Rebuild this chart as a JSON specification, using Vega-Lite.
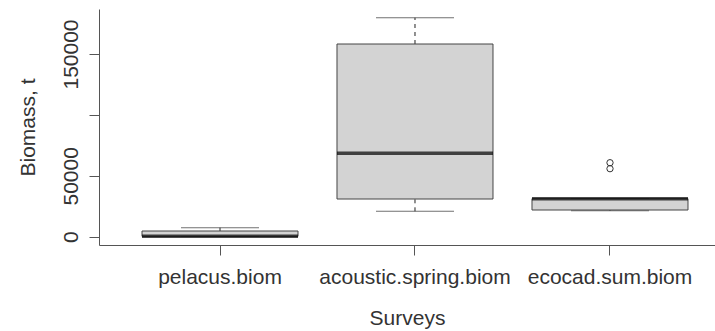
{
  "$schema": "https://vega.github.io/schema/vega-lite/v6.json",
  "width": 616,
  "height": 236,
  "autosize": {"type": "none"},
  "padding": {"left": 99, "top": 9, "right": 0, "bottom": 86},
  "background": "white",
  "config": {
    "view": {"stroke": null},
    "font": "Liberation Sans",
    "axis": {
      "grid": false,
      "labelFont": "Liberation Sans",
      "titleFont": "Liberation Sans",
      "labelFontSize": 21,
      "titleFontSize": 21,
      "titleFontWeight": "normal",
      "labelColor": "#333",
      "titleColor": "#333",
      "domainColor": "#555",
      "tickColor": "#555",
      "tickSize": 10,
      "labelLimit": 0,
      "labelOverlap": false,
      "labelBound": false
    }
  },
  "datasets": {
    "stats": [
      {"survey": "pelacus.biom", "lower": 300, "q1": 300, "median": 350, "q3": 4680, "upper": 7390},
      {"survey": "acoustic.spring.biom", "lower": 20850, "q1": 30950, "median": 68470, "q3": 158210, "upper": 179800},
      {"survey": "ecocad.sum.biom", "lower": 21350, "q1": 21920, "median": 31200, "q3": 31200, "upper": 31200}
    ],
    "outliers": [
      {"survey": "ecocad.sum.biom", "value": 60750},
      {"survey": "ecocad.sum.biom", "value": 55830}
    ]
  },
  "encoding": {
    "x": {
      "field": "survey",
      "type": "nominal",
      "sort": ["pelacus.biom", "acoustic.spring.biom", "ecocad.sum.biom"],
      "scale": {"paddingInner": 0, "paddingOuter": 0.0795, "align": 0.758},
      "axis": {"title": "Surveys", "labelAngle": 0, "labelPadding": 11, "titlePadding": 20}
    }
  },
  "layer": [
    {
      "data": {"name": "stats"},
      "mark": {"type": "rule", "color": "#222", "strokeWidth": 1, "strokeDash": [4, 4]},
      "encoding": {
        "y": {
          "field": "q3",
          "type": "quantitative",
          "scale": {"domain": [-6814, 186946], "nice": false, "zero": false},
          "axis": {
            "title": "Biomass, t",
            "values": [0, 50000, 100000, 150000],
            "format": "d",
            "labelExpr": "datum.value == 100000 ? '' : datum.label",
            "labelAngle": -90,
            "labelPadding": 8,
            "titlePadding": 22
          }
        },
        "y2": {"field": "upper"}
      }
    },
    {
      "data": {"name": "stats"},
      "mark": {"type": "rule", "color": "#222", "strokeWidth": 1, "strokeDash": [4, 4]},
      "encoding": {
        "y": {"field": "lower", "type": "quantitative"},
        "y2": {"field": "q1"}
      }
    },
    {
      "data": {"name": "stats"},
      "mark": {"type": "tick", "color": "#333", "size": 78, "thickness": 1, "orient": "horizontal"},
      "encoding": {"y": {"field": "upper", "type": "quantitative"}}
    },
    {
      "data": {"name": "stats"},
      "mark": {"type": "tick", "color": "#333", "size": 78, "thickness": 1, "orient": "horizontal"},
      "encoding": {"y": {"field": "lower", "type": "quantitative"}}
    },
    {
      "data": {"name": "stats"},
      "mark": {"type": "bar", "fill": "#D3D3D3", "stroke": "#444", "strokeWidth": 1, "width": {"band": 0.8}},
      "encoding": {
        "y": {"field": "q1", "type": "quantitative"},
        "y2": {"field": "q3"}
      }
    },
    {
      "data": {"name": "stats"},
      "mark": {"type": "tick", "color": "#000", "size": 156, "thickness": 3.5, "orient": "horizontal"},
      "encoding": {"y": {"field": "median", "type": "quantitative"}}
    },
    {
      "data": {"name": "outliers"},
      "mark": {"type": "point", "shape": "circle", "filled": false, "color": "#333", "strokeWidth": 1, "size": 40, "opacity": 1},
      "encoding": {"y": {"field": "value", "type": "quantitative"}}
    },
    {
      "mark": {"type": "rule", "color": "#555", "strokeWidth": 1},
      "encoding": {"y": {"datum": 186946}}
    }
  ]
}
